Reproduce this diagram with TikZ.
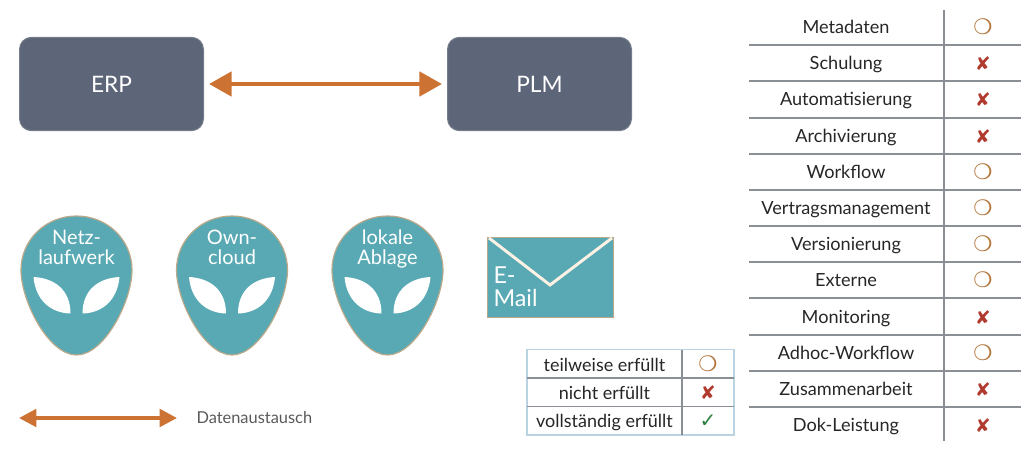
\documentclass[tikz,border=0pt]{standalone}
\usepackage{fontspec}
\setmainfont{Lato}
\newfontfamily\symfont{DejaVu Sans}
\usetikzlibrary{arrows.meta}
\definecolor{boxgrey}{HTML}{5D6678}
\definecolor{pipeorange}{HTML}{CC7232}
\definecolor{headteal}{HTML}{58A9B4}
\definecolor{headrim}{HTML}{B9A98A}
\definecolor{ringbrown}{HTML}{B5783F}
\definecolor{crossred}{HTML}{B03A2E}
\definecolor{tickgreen}{HTML}{2E7D3C}
\definecolor{rulegrey}{HTML}{8A8F96}
\definecolor{legendblue}{HTML}{B9D3E2}
\tikzset{every picture/.style={line width=0.75pt}}
\tikzset{
  sysbox/.style={draw=boxgrey!85,fill=boxgrey,rounded corners=9pt,minimum width=138pt,minimum height=70pt,inner sep=0pt,text=white,font=\fontsize{17}{20}\selectfont},
  pipe/.style={draw=pipeorange,line width=3.6pt,{Triangle[length=17pt,width=18pt]}-{Triangle[length=17pt,width=18pt]}},
  smallpipe/.style={draw=pipeorange,line width=3pt,{Triangle[length=13pt,width=13pt]}-{Triangle[length=13pt,width=13pt]}},
  headtext/.style={anchor=south,align=center,text=white,inner sep=0pt,font=\fontsize{15}{15}\selectfont},
  rowtext/.style={anchor=base,text=black!85,inner sep=0pt,font=\fontsize{13.6}{15}\selectfont},
  legtext/.style={anchor=base,text=black!85,inner sep=0pt,font=\fontsize{13.5}{15}\selectfont},
  ring/.style={text=ringbrown,inner sep=0pt,font=\symfont\fontsize{16}{15}\selectfont},
  cross/.style={text=crossred,inner sep=0pt,font=\symfont\fontsize{14}{15}\selectfont},
  tick/.style={text=tickgreen,inner sep=0pt,font=\symfont\fontsize{15}{15}\selectfont},
  tablerule/.style={draw=rulegrey,line width=0.8pt},
  alienhead/.pic={
    \draw[draw=headrim,fill=headteal,line width=0.9pt] (0,0) .. controls (31,0) and (55.5,24) .. (55.5,54) .. controls (55.5,85) and (28,139) .. (0,139) .. controls (-28,139) and (-55.5,85) .. (-55.5,54) .. controls (-55.5,24) and (-31,0) .. (0,0) -- cycle;
    \fill[white] (-43,61) .. controls (-22,62) and (-6,74) .. (-6,97.5) .. controls (-26,97) and (-41,84) .. (-43,61) -- cycle;
    \fill[white] (43,61) .. controls (22,62) and (6,74) .. (6,97.5) .. controls (26,97) and (41,84) .. (43,61) -- cycle;
  },
}

\begin{document}
\begin{tikzpicture}[x=0.75pt,y=0.75pt,yscale=-1,xscale=1]
\useasboundingbox (0,0) rectangle (1024,450);

% systems
\node [sysbox] (erp) at (111.5,84) {ERP};
\node [sysbox] (plm) at (539.5,84) {PLM};
\draw [pipe,shorten <=3.75pt,shorten >=3.75pt] (erp) -- (plm);

% alien heads
\pic [transform shape] at (76.5,216) {alienhead};
\pic [transform shape] at (232,216) {alienhead};
\pic [transform shape] at (387.5,216) {alienhead};
\node [headtext] (netz) at (76.5,271) {Netz-\\laufwerk\strut};
\node [headtext] (owncloud) at (232,271) {Own-\\cloud\strut};
\node [headtext] (ablage) at (387.5,271) {lokale\\Ablage\strut};

% mail
\draw [draw=headrim,fill=headteal,line width=0.9pt] (487.5,237.5) rectangle (613.5,317.5);
\draw [draw=white!90!orange,line width=2.2pt] (489,238) -- (550,285) -- (612,238);
\node [anchor=west,align=left,text=white,inner sep=0pt,font=\fontsize{17.5}{17.3}\selectfont] (mail) at (493,287) {E-\\Mail};

% pipe legend
\coordinate (legleft) at (19,418);
\coordinate (legright) at (177,418);
\draw [smallpipe] (legleft) -- (legright);
\node [anchor=west,text=black!65,inner sep=0pt,font=\fontsize{12.3}{14}\selectfont] (austausch) at (196,418) {Datenaustausch};

% symbol legend
\draw [draw=legendblue,line width=1pt] (527,349.5) rectangle (734,435);
\draw [tablerule] (527,378) -- (734,378);
\draw [tablerule] (527,406.5) -- (734,406.5);
\draw [tablerule] (682,349.5) -- (682,435);
\node [legtext] (teilweise) at (604.5,371) {teilweise erfüllt};
\node [legtext] (nicht) at (604.5,399.5) {nicht erfüllt};
\node [legtext] (voll) at (604.5,427.5) {vollständig erfüllt};
\node [ring] (teilweisesym) at (708,364) {❍};
\node [cross] (nichtsym) at (708,393) {✘};
\node [tick] (vollsym) at (708,421) {✓};

% criteria table
\draw [tablerule] (944,10) -- (944,441);
\draw [tablerule] (749,45) -- (1021,45);
\draw [tablerule] (749,81) -- (1021,81);
\draw [tablerule] (749,118) -- (1021,118);
\draw [tablerule] (749,154) -- (1021,154);
\draw [tablerule] (749,190) -- (1021,190);
\draw [tablerule] (749,226) -- (1021,226);
\draw [tablerule] (749,262) -- (1021,262);
\draw [tablerule] (749,298) -- (1021,298);
\draw [tablerule] (749,335) -- (1021,335);
\draw [tablerule] (749,371) -- (1021,371);
\draw [tablerule] (749,407) -- (1021,407);
\node [rowtext] (metadaten) at (846,33) {Metadaten};
\node [rowtext] (schulung) at (846,69) {Schulung};
\node [rowtext] (automat) at (846,105.5) {Automatisierung};
\node [rowtext] (archiv) at (846,142) {Archivierung};
\node [rowtext] (workflow) at (846,178.5) {Workflow};
\node [rowtext] (vertrag) at (846,214.5) {Vertragsmanagement};
\node [rowtext] (version) at (846,250.5) {Versionierung};
\node [rowtext] (externe) at (846,286.5) {Externe};
\node [rowtext] (monitor) at (846,323) {Monitoring};
\node [rowtext] (adhoc) at (846,359) {Adhoc-Workflow};
\node [rowtext] (zusammen) at (846,395) {Zusammenarbeit};
\node [rowtext] (dok) at (846,431) {Dok-Leistung};
\node [ring] (metadatensym) at (983,27) {❍};
\node [cross] (schulungsym) at (983,63.5) {✘};
\node [cross] (automatsym) at (983,100) {✘};
\node [cross] (archivsym) at (983,136.5) {✘};
\node [ring] (workflowsym) at (983,172) {❍};
\node [ring] (vertragsym) at (983,208) {❍};
\node [ring] (versionsym) at (983,244) {❍};
\node [ring] (externesym) at (983,280) {❍};
\node [cross] (monitorsym) at (983,317.5) {✘};
\node [ring] (adhocsym) at (983,353) {❍};
\node [cross] (zusammensym) at (983,389.5) {✘};
\node [cross] (doksym) at (983,425.5) {✘};

\end{tikzpicture}
\end{document}
